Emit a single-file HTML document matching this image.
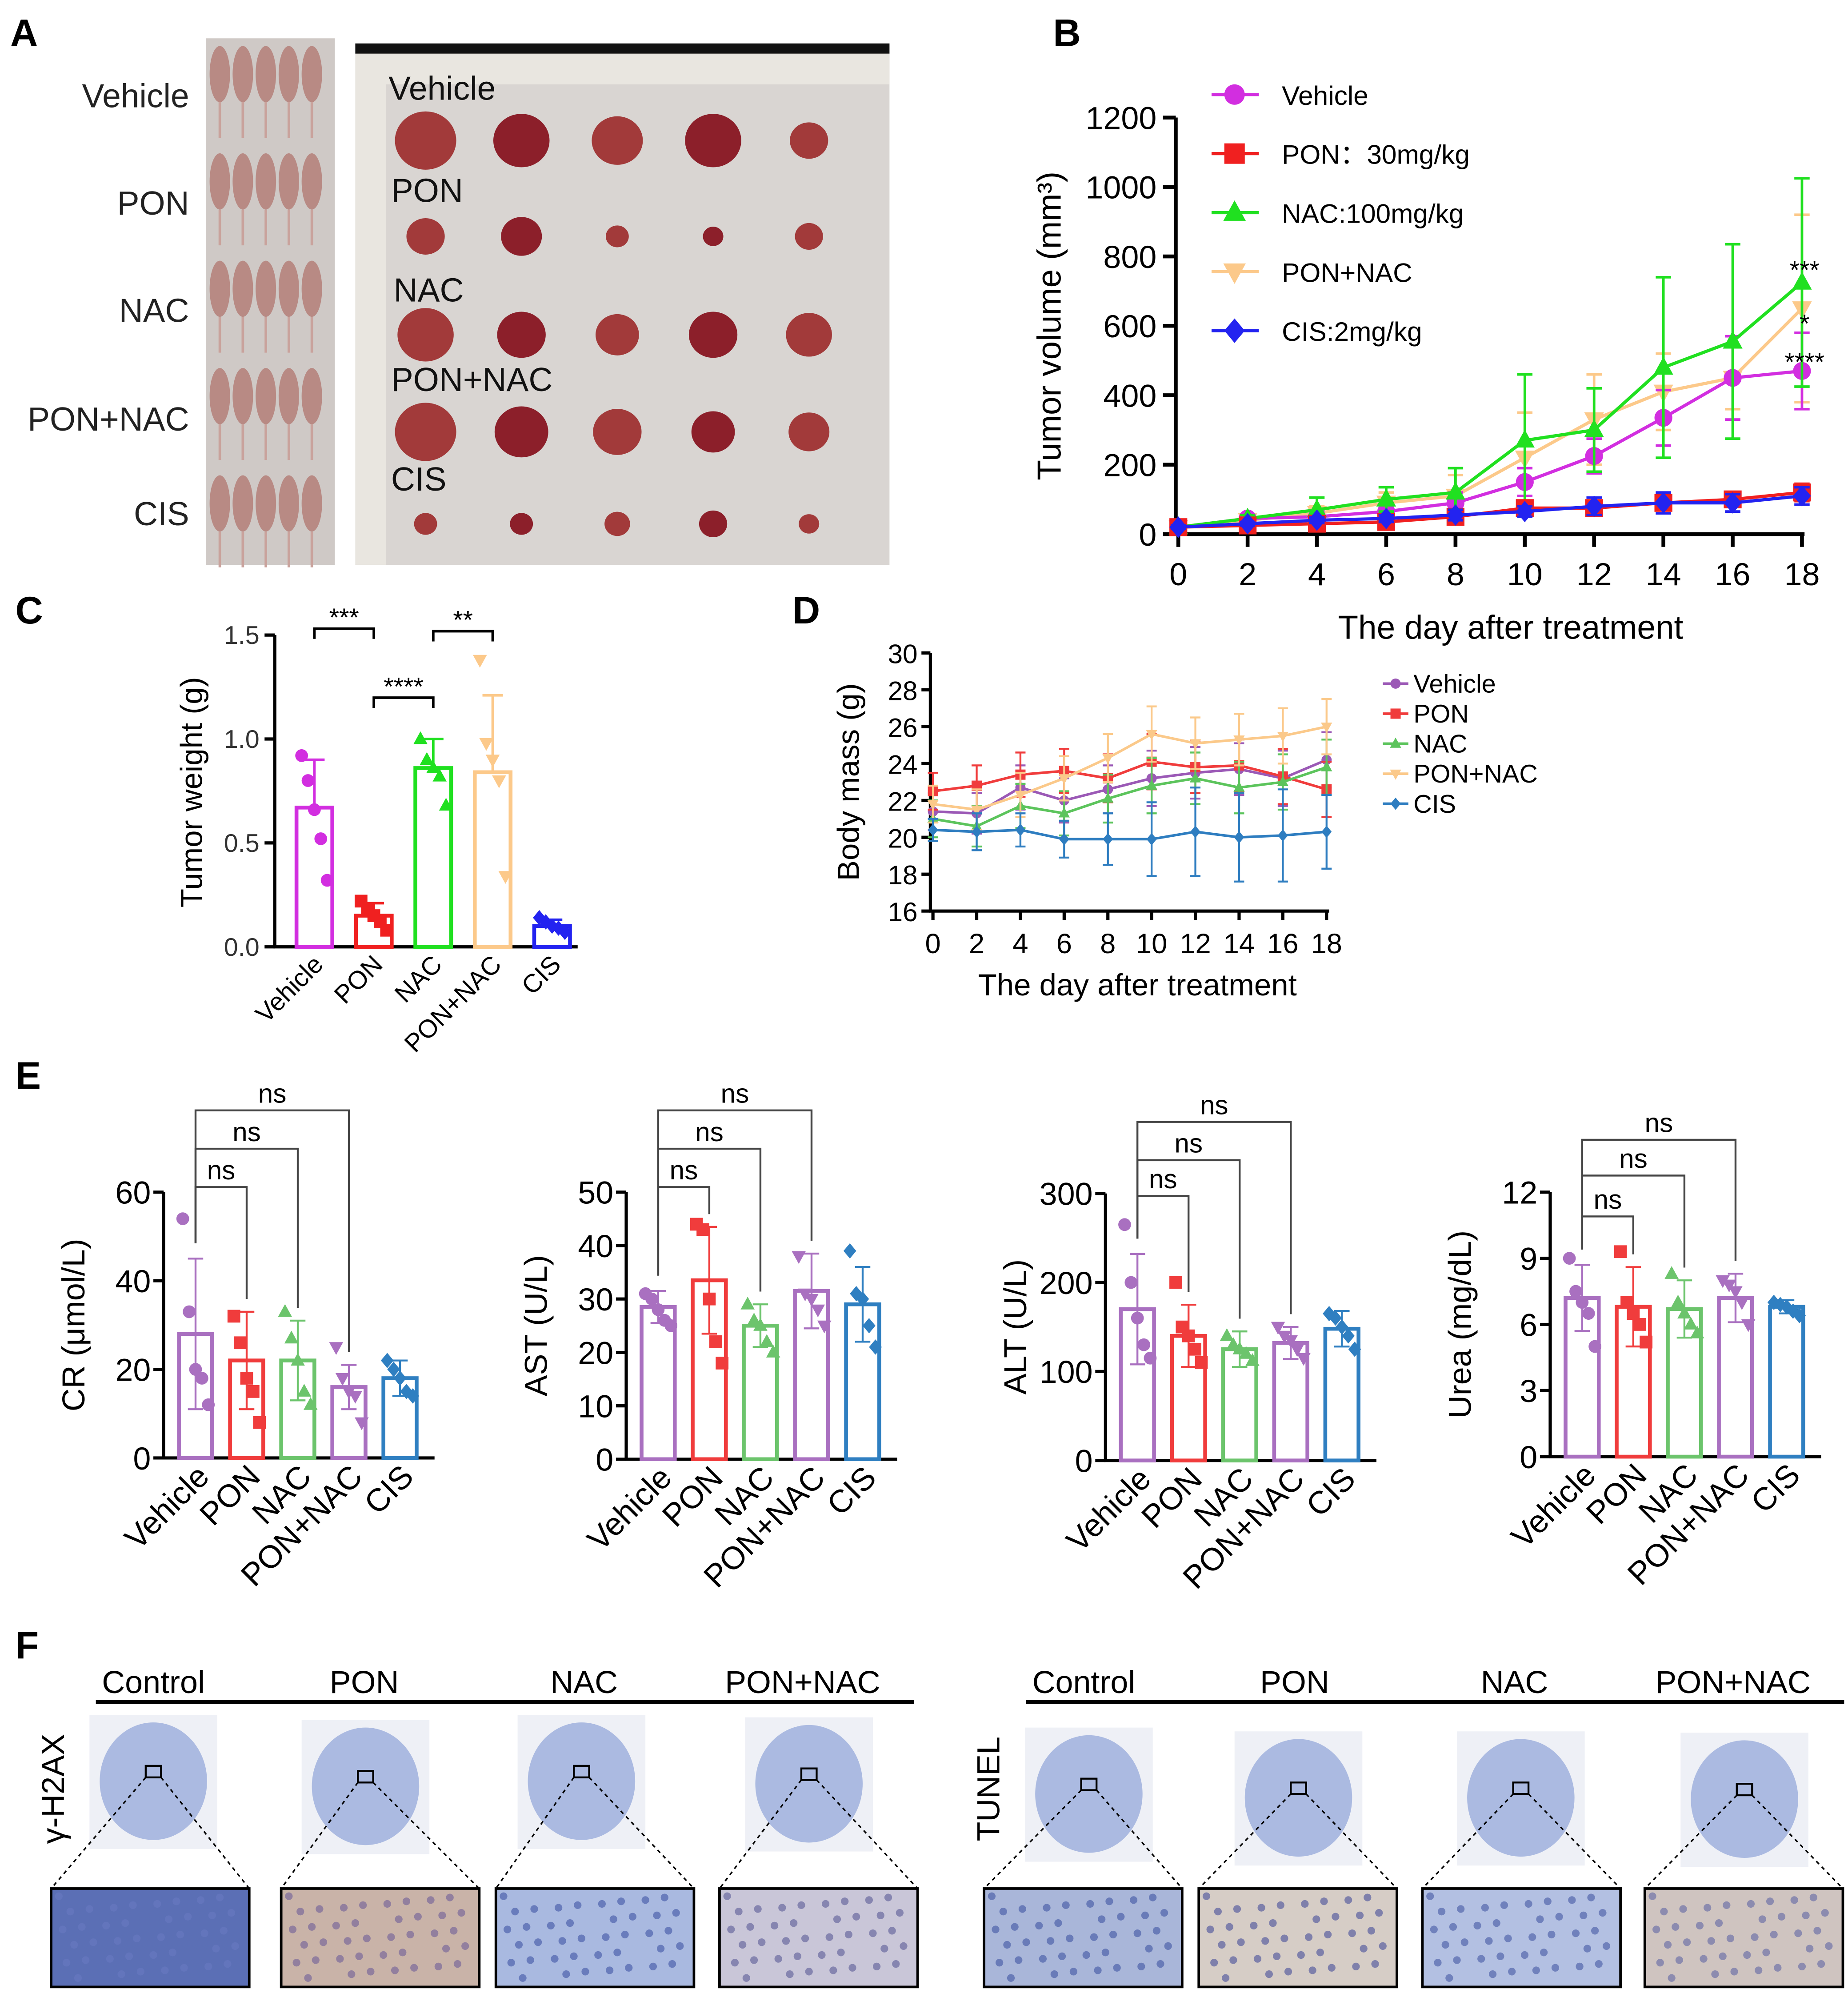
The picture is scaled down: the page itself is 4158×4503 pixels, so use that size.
<!DOCTYPE html>
<html><head><meta charset="utf-8"><style>
html,body{margin:0;padding:0;background:#fff}
svg{display:block;font-family:"Liberation Sans",Arial,sans-serif}
</style></head><body>
<svg id="fig" width="4158" height="4503" viewBox="0 0 1446 1566" xmlns="http://www.w3.org/2000/svg">
<g id="A">
<text x="8" y="36" font-size="30" font-weight="bold">A</text>
<g font-size="26" text-anchor="end" fill="#222">
<text x="148" y="84">Vehicle</text>
<text x="148" y="168">PON</text>
<text x="148" y="252">NAC</text>
<text x="148" y="337">PON+NAC</text>
<text x="148" y="411">CIS</text>
</g>
<rect x="161" y="30" width="101" height="412" fill="#cfc9c6"/>
<g id="mice"></g>
<rect x="278" y="34" width="418" height="408" fill="#d9d5d2"/>
<rect x="278" y="34" width="418" height="8" fill="#111"/>
<rect x="278" y="42" width="24" height="400" fill="#e9e6e0"/>
<rect x="302" y="42" width="394" height="24" fill="#e9e6e0"/>
<g font-size="26" fill="#111">
<text x="304" y="78">Vehicle</text><text x="306" y="158">PON</text><text x="308" y="236">NAC</text><text x="306" y="306">PON+NAC</text><text x="306" y="384">CIS</text>
</g>
<g id="tumors"></g>
</g>

<g id="B">
<text x="824" y="36" font-size="30" font-weight="bold">B</text>
</g>
<g id="C">
<text x="12" y="488" font-size="30" font-weight="bold">C</text>
</g>
<g id="D">
<text x="620" y="488" font-size="30" font-weight="bold">D</text>
</g>
<g id="E">
<text x="12" y="852" font-size="30" font-weight="bold">E</text>
</g>
<g id="F">
<text x="12" y="1298" font-size="30" font-weight="bold">F</text>
</g>
</svg>
<script>
const NS="http://www.w3.org/2000/svg";
function mk(p,tag,at,txt){const e=document.createElementNS(NS,tag);for(const k in at)e.setAttribute(k,at[k]);if(txt!==undefined)e.textContent=txt;p.appendChild(e);return e;}

// ---------- Panel B data ----------
const daysB=[0,2,4,6,8,10,12,14,16,18];
const bVehicle=[20,45,50,65,90,150,225,335,450,470];
const bPON=[20,25,30,35,50,75,75,90,100,120];
const bNAC=[20,45,70,100,120,270,300,480,555,725];
const bPONNAC=[20,40,60,90,110,220,330,410,450,650];
const bCIS=[20,30,40,45,55,65,80,90,90,110];
const bErrVehicle=[5,8,15,25,30,40,50,80,120,110];
const bErrPON=[5,5,8,10,15,20,20,20,20,25];
const bErrNAC=[5,10,35,35,70,190,120,260,280,300];
const bErrPONNAC=[5,10,20,30,60,130,130,110,90,270];
const bErrCIS=[5,5,8,10,15,15,25,30,25,25];
const bYTicks=[0,200,400,600,800,1000,1200];
const bLegend=["Vehicle","PON：30mg/kg","NAC:100mg/kg","PON+NAC","CIS:2mg/kg"];

// ---------- Panel C data ----------
const cGroups=["Vehicle","PON","NAC","PON+NAC","CIS"];
const cMeans=[0.67,0.15,0.86,0.84,0.10];
const cSD=[0.23,0.06,0.14,0.37,0.03];
const cPoints=[[0.92,0.80,0.66,0.52,0.32],[0.22,0.18,0.15,0.12,0.08],[1.0,0.90,0.86,0.82,0.68],[1.38,0.98,0.90,0.80,0.34],[0.14,0.12,0.10,0.09,0.07]];
const cYTicks=[0,0.5,1.0,1.5];

// ---------- Panel D data ----------
const daysD=[0,2,4,6,8,10,12,14,16,18];
const dVehicle=[21.4,21.3,22.7,22.0,22.6,23.2,23.5,23.7,23.2,24.2];
const dPON=[22.5,22.8,23.4,23.6,23.2,24.1,23.8,23.9,23.3,22.6];
const dNAC=[21.0,20.6,21.7,21.3,22.1,22.8,23.2,22.7,23.0,23.8];
const dPONNAC=[21.8,21.5,22.3,23.2,24.3,25.6,25.1,25.3,25.5,26.0];
const dCIS=[20.4,20.3,20.4,19.9,19.9,19.9,20.3,20.0,20.1,20.3];
const dErr=[1.0,1.1,1.2,1.2,1.3,1.5,1.4,1.4,1.5,1.5];
const dErrCIS=[0.6,1.0,0.9,1.0,1.4,2.0,2.4,2.4,2.5,2.0];
const dYTicks=[16,18,20,22,24,26,28,30];
const dLegend=["Vehicle","PON","NAC","PON+NAC","CIS"];

// ---------- Panel E data ----------
const eGroups=["Vehicle","PON","NAC","PON+NAC","CIS"];
const crMeans=[28,22,22,16,18];
const crSD=[17,11,9,5,4];
const crPoints=[[54,33,20,18,12],[32,26,18,15,8],[33,27,22,15,12],[25,18,15,14,8],[22,20,18,15,14]];
const astMeans=[28.5,33.5,25,31.5,29];
const astSD=[3,10,4,7,7];
const astPoints=[[31,30,28,26,25],[44,43,30,22,18],[29,26,25,22,20],[38,31,30,28,25],[39,31,30,25,21]];
const altMeans=[170,140,125,132,148];
const altSD=[62,35,20,18,20];
const altPoints=[[265,200,160,130,115],[200,150,140,125,110],[140,130,125,120,112],[150,140,135,125,115],[165,160,150,140,125]];
const ureaMeans=[7.2,6.8,6.7,7.2,6.8];
const ureaSD=[1.5,1.8,1.3,1.1,0.3];
const ureaPoints=[[9.0,7.5,7.0,6.5,5.0],[9.3,7.0,6.5,6.0,5.2],[8.3,7.0,6.5,6.0,5.6],[8.0,7.8,7.5,7.0,6.0],[7.0,6.9,6.8,6.6,6.4]];

const colsB=["#d22ee0","#f02020","#20e020","#fcc98a","#2323f0"];
const colsD=["#9b59b6","#f03c3c","#5cc45c","#fbc98a","#2e7dc0"];
const colsE=["#a970c0","#f03c3c","#6cc46c","#a970c0","#2f7fc1"];

// ---------- Panel A drawing ----------
(function(){
 const m=document.getElementById('mice');
 for(let r=0;r<5;r++){for(let i=0;i<5;i++){
  const el=mk(m,'ellipse',{cx:172+i*18,cy:58+r*84,rx:8,ry:22,fill:'#b88a84'});
  
  
  mk(m,'line',{x1:172+i*18,y1:80+r*84,x2:172+i*18,y2:108+r*84,stroke:'#c9a29c','stroke-width':2});
 }}
 const t=document.getElementById('tumors');
 const rows=[110,185,262,338,410];const sizes=[[24,22,20,22,15],[15,16,9,8,11],[22,19,17,19,18],[24,21,19,17,16],[9,9,10,11,8]];
 for(let r=0;r<5;r++)for(let i=0;i<5;i++){
  const el=mk(t,'ellipse',{cx:333+i*75,cy:rows[r],rx:sizes[r][i],ry:sizes[r][i]*0.95,fill:i%2?'#8c1f2a':'#a23a3a'});
  
  
 }
})();

// ---------- Panel B drawing ----------
(function(){
 const g=document.getElementById('B');
 const X=d=>922+d*(488/18), Y=v=>418-v*(326/1200);
 mk(g,'line',{x1:920,y1:92,x2:920,y2:419,stroke:'#000','stroke-width':3});
 mk(g,'line',{x1:919,y1:418,x2:1412,y2:418,stroke:'#000','stroke-width':3});
 bYTicks.forEach(t=>{mk(g,'line',{x1:910,y1:Y(t),x2:920,y2:Y(t),stroke:'#000','stroke-width':3});mk(g,'text',{x:905,y:Y(t)+9,'font-size':25,'text-anchor':'end'},t);});
 daysB.forEach(d=>{mk(g,'line',{x1:X(d),y1:418,x2:X(d),y2:428,stroke:'#000','stroke-width':3});mk(g,'text',{x:X(d),y:458,'font-size':25,'text-anchor':'middle'},d);});
 mk(g,'text',{x:1182,y:500,'font-size':26,'text-anchor':'middle'},'The day after treatment');
 mk(g,'text',{x:830,y:255,'font-size':26,'text-anchor':'middle',transform:'rotate(-90 830 255)'},'Tumor volume (mm³)');
 const S=[bVehicle,bPON,bNAC,bPONNAC,bCIS],E=[bErrVehicle,bErrPON,bErrNAC,bErrPONNAC,bErrCIS];
 const shapes=['c','s','t','v','d'];
 function marker(p,x,y,s,c,r){
  if(s=='c')return mk(p,'circle',{cx:x,cy:y,r:r,fill:c});
  if(s=='s')return mk(p,'rect',{x:x-r,y:y-r,width:2*r,height:2*r,fill:c});
  if(s=='t')return mk(p,'polygon',{points:`${x},${y-r*1.2} ${x-r*1.1},${y+r*0.8} ${x+r*1.1},${y+r*0.8}`,fill:c});
  if(s=='v')return mk(p,'polygon',{points:`${x},${y+r*1.2} ${x-r*1.1},${y-r*0.8} ${x+r*1.1},${y-r*0.8}`,fill:c});
  return mk(p,'polygon',{points:`${x},${y-r*1.2} ${x+r},${y} ${x},${y+r*1.2} ${x-r},${y}`,fill:c});
 }
 window._marker=marker;
 [3,0,2,1,4].forEach(k=>{
  const sg=mk(g,'g',{});
  
  
  S[k].forEach((v,i)=>{const x=X(daysB[i]);mk(sg,'line',{x1:x,y1:Y(v-E[k][i]),x2:x,y2:Y(v+E[k][i]),stroke:colsB[k],'stroke-width':2});mk(sg,'line',{x1:x-6,y1:Y(v+E[k][i]),x2:x+6,y2:Y(v+E[k][i]),stroke:colsB[k],'stroke-width':2});mk(sg,'line',{x1:x-6,y1:Y(v-E[k][i]),x2:x+6,y2:Y(v-E[k][i]),stroke:colsB[k],'stroke-width':2});});
  mk(sg,'polyline',{points:S[k].map((v,i)=>X(daysB[i])+','+Y(v)).join(' '),fill:'none',stroke:colsB[k],'stroke-width':2.5});
  S[k].forEach((v,i)=>{const m=marker(sg,X(daysB[i]),Y(v),shapes[k],colsB[k],7);});
 });
 bLegend.forEach((l,i)=>{const y=74+i*46.2;const lg=mk(g,'g',{});
  
  
  mk(lg,'line',{x1:948,y1:y,x2:985,y2:y,stroke:colsB[i],'stroke-width':2.5});marker(lg,966,y,shapes[i],colsB[i],8);mk(lg,'text',{x:1003,y:y+8,'font-size':21},l);});
 mk(g,'text',{x:1412,y:218,'font-size':20,'text-anchor':'middle'},'***');
 mk(g,'text',{x:1412,y:260,'font-size':20,'text-anchor':'middle'},'*');
 mk(g,'text',{x:1412,y:290,'font-size':20,'text-anchor':'middle'},'****');
})();

// ---------- Panel C drawing ----------
(function(){
 const g=document.getElementById('C');
 const Y=v=>741-v*(244/1.5), X=i=>246+i*46.5;
 mk(g,'line',{x1:215,y1:497,x2:215,y2:742,stroke:'#000','stroke-width':2.5});
 mk(g,'line',{x1:214,y1:741,x2:452,y2:741,stroke:'#000','stroke-width':2.5});
 cYTicks.forEach(t=>{mk(g,'line',{x1:207,y1:Y(t),x2:215,y2:Y(t),stroke:'#000','stroke-width':2.5});mk(g,'text',{x:203,y:Y(t)+7,'font-size':20,'text-anchor':'end',fill:'#333'},t.toFixed(1));});
 mk(g,'text',{x:158,y:620,'font-size':24,'text-anchor':'middle',transform:'rotate(-90 158 620)'},'Tumor weight (g)');
 const shapes=['c','s','t','v','d'];
 cMeans.forEach((v,i)=>{const x=X(i),c=colsB[i];
  const b=mk(g,'rect',{x:x-14,y:Y(v),width:28,height:741-Y(v),fill:'none',stroke:c,'stroke-width':3});
  
  
  mk(g,'line',{x1:x,y1:Y(v),x2:x,y2:Y(v+cSD[i]),stroke:c,'stroke-width':2});
  mk(g,'line',{x1:x-8,y1:Y(v+cSD[i]),x2:x+8,y2:Y(v+cSD[i]),stroke:c,'stroke-width':2});
  cPoints[i].forEach((p,j)=>_marker(g,x+(j-2)*5,Y(p),shapes[i],c,5));
  mk(g,'text',{x:x+8,y:756,'font-size':20,'text-anchor':'end',transform:`rotate(-45 ${x+8} 756)`},cGroups[i]);
 });
 const br=(i1,i2,y,s)=>{mk(g,'polyline',{points:`${X(i1)},${y+8} ${X(i1)},${y} ${X(i2)},${y} ${X(i2)},${y+8}`,fill:'none',stroke:'#000','stroke-width':2});mk(g,'text',{x:(X(i1)+X(i2))/2,y:y-2,'font-size':20,'text-anchor':'middle'},s);};
 br(0,1,492,'***');br(2,3,494,'**');br(1,2,546,'****');
})();

// ---------- Panel D drawing ----------
(function(){
 const g=document.getElementById('D');
 const X=d=>730+d*(308/18), Y=v=>713-(v-16)*(202/14);
 mk(g,'line',{x1:728,y1:511,x2:728,y2:714,stroke:'#000','stroke-width':2.5});
 mk(g,'line',{x1:727,y1:713,x2:1040,y2:713,stroke:'#000','stroke-width':2.5});
 dYTicks.forEach(t=>{mk(g,'line',{x1:721,y1:Y(t),x2:728,y2:Y(t),stroke:'#000','stroke-width':2.5});mk(g,'text',{x:718,y:Y(t)+8,'font-size':21,'text-anchor':'end'},t);});
 daysD.forEach(d=>{mk(g,'line',{x1:X(d),y1:713,x2:X(d),y2:720,stroke:'#000','stroke-width':2.5});mk(g,'text',{x:X(d),y:746,'font-size':22,'text-anchor':'middle'},d);});
 mk(g,'text',{x:890,y:779,'font-size':24,'text-anchor':'middle'},'The day after treatment');
 mk(g,'text',{x:672,y:612,'font-size':24,'text-anchor':'middle',transform:'rotate(-90 672 612)'},'Body mass (g)');
 const S=[dVehicle,dPON,dNAC,dPONNAC,dCIS];const shapes=['c','s','t','v','d'];
 S.forEach((s,k)=>{const E=k==4?dErrCIS:dErr;
  const sg=mk(g,'g',{});
  
  
  s.forEach((v,i)=>{const x=X(daysD[i]);mk(sg,'line',{x1:x,y1:Y(v-E[i]),x2:x,y2:Y(v+E[i]),stroke:colsD[k],'stroke-width':1.5});mk(sg,'line',{x1:x-4,y1:Y(v+E[i]),x2:x+4,y2:Y(v+E[i]),stroke:colsD[k],'stroke-width':1.5});mk(sg,'line',{x1:x-4,y1:Y(v-E[i]),x2:x+4,y2:Y(v-E[i]),stroke:colsD[k],'stroke-width':1.5});});
  mk(sg,'polyline',{points:s.map((v,i)=>X(daysD[i])+','+Y(v)).join(' '),fill:'none',stroke:colsD[k],'stroke-width':2});
  s.forEach((v,i)=>_marker(sg,X(daysD[i]),Y(v),shapes[k],colsD[k],4));
 });
 dLegend.forEach((l,i)=>{const y=535+i*23.5;const lg=mk(g,'g',{});
  
  
  mk(lg,'line',{x1:1082,y1:y,x2:1102,y2:y,stroke:colsD[i],'stroke-width':2});_marker(lg,1092,y,shapes[i],colsD[i],4);mk(lg,'text',{x:1106,y:y+7,'font-size':20},l);});
})();

// ---------- Panel E drawing ----------
function barChart(cfg){
 const g=mk(document.getElementById('E'),'g',{});
 
 
 const Y=v=>cfg.y0-v*(cfg.y0-cfg.yTop)/cfg.max, X=i=>cfg.ax+25+i*40;
 mk(g,'line',{x1:cfg.ax,y1:cfg.yTop,x2:cfg.ax,y2:cfg.y0+1,stroke:'#000','stroke-width':2.5});
 mk(g,'line',{x1:cfg.ax-1,y1:cfg.y0,x2:cfg.ax+212,y2:cfg.y0,stroke:'#000','stroke-width':2.5});
 cfg.ticks.forEach(t=>{mk(g,'line',{x1:cfg.ax-8,y1:Y(t),x2:cfg.ax,y2:Y(t),stroke:'#000','stroke-width':2.5});mk(g,'text',{x:cfg.ax-10,y:Y(t)+9,'font-size':25,'text-anchor':'end'},t);});
 const ym=(cfg.y0+cfg.yTop)/2;
 mk(g,'text',{x:cfg.ax-62,y:ym,'font-size':25,'text-anchor':'middle',transform:`rotate(-90 ${cfg.ax-62} ${ym})`},cfg.label);
 const shapes=['c','s','t','v','d'];
 cfg.means.forEach((v,i)=>{const x=X(i),c=colsE[i];
  const b=mk(g,'rect',{x:x-13,y:Y(v),width:26,height:cfg.y0-Y(v),fill:'none',stroke:c,'stroke-width':3});
  
  
  mk(g,'line',{x1:x,y1:Y(v-cfg.sd[i]),x2:x,y2:Y(v+cfg.sd[i]),stroke:c,'stroke-width':1.5});
  mk(g,'line',{x1:x-6,y1:Y(v+cfg.sd[i]),x2:x+6,y2:Y(v+cfg.sd[i]),stroke:c,'stroke-width':1.5});
  mk(g,'line',{x1:x-6,y1:Y(v-cfg.sd[i]),x2:x+6,y2:Y(v-cfg.sd[i]),stroke:c,'stroke-width':1.5});
  cfg.pts[i].forEach((p,j)=>_marker(g,x+(j-2)*5,Y(p),shapes[i],c,5));
  mk(g,'text',{x:x+12,y:cfg.y0+16,'font-size':25,'text-anchor':'end',transform:`rotate(-45 ${x+12} ${cfg.y0+16})`},eGroups[i]);
 });
 [[1,cfg.nsY[2]],[2,cfg.nsY[1]],[3,cfg.nsY[0]]].forEach(([k,y])=>{
  const xt=X(k)+(k==3?0:0);
  mk(g,'polyline',{points:`${X(0)},${Y(cfg.means[0]+cfg.sd[0])-12} ${X(0)},${y} ${xt},${y} ${xt},${Y(cfg.means[k]+cfg.sd[k])-10}`,fill:'none',stroke:'#444','stroke-width':1.5});
  mk(g,'text',{x:(X(0)+xt)/2,y:y-6,'font-size':21,'text-anchor':'middle'},'ns');
 });
}
barChart({name:'chart-cr',ax:128,y0:1141,yTop:933,max:60,ticks:[0,20,40,60],label:'CR (μmol/L)',means:crMeans,sd:crSD,pts:crPoints,nsY:[869,899,929]});
barChart({name:'chart-ast',ax:490,y0:1142,yTop:933,max:50,ticks:[0,10,20,30,40,50],label:'AST (U/L)',means:astMeans,sd:astSD,pts:astPoints,nsY:[869,899,929]});
barChart({name:'chart-alt',ax:865,y0:1143,yTop:934,max:300,ticks:[0,100,200,300],label:'ALT (U/L)',means:altMeans,sd:altSD,pts:altPoints,nsY:[878,908,936]});
barChart({name:'chart-urea',ax:1213,y0:1140,yTop:933,max:12,ticks:[0,3,6,9,12],label:'Urea (mg/dL)',means:ureaMeans,sd:ureaSD,pts:ureaPoints,nsY:[892,920,952]});

// ---------- Panel F drawing ----------
(function(){
 const g=document.getElementById('F');
 const labs=['Control','PON','NAC','PON+NAC'];
 const halves=[{x0:75,lx:[120,285,457,628],thumbs:[[70,1342],[236,1346],[405,1342],[583,1344]],zooms:[40,220,388,563],side:'γ-H2AX',sx:50},{x0:803,lx:[848,1013,1185,1356],thumbs:[[802,1352],[966,1355],[1140,1355],[1315,1356]],zooms:[770,938,1113,1287],side:'TUNEL',sx:782}];
 const zc=[['#5b6fb5','#6678bf'],['#c9b3a8','#7a6a9a'],['#a9b9e0','#4f63ad'],['#c9c6d8','#6a6aa0'],['#a9b6d9','#4e63aa'],['#d6cdc6','#5a5fa0'],['#b3c0e2','#5467ad'],['#cfc4c0','#6f74a8']];
 halves.forEach((h,hi)=>{
  mk(g,'line',{x1:h.x0,y1:1332,x2:h.x0+640,y2:1332,stroke:'#000','stroke-width':3});
  labs.forEach((l,i)=>{const t=mk(g,'text',{x:h.lx[i],y:1325,'font-size':25,'text-anchor':'middle'},l);
   
   });
  mk(g,'text',{x:h.sx,y:1400,'font-size':25,'text-anchor':'middle',transform:`rotate(-90 ${h.sx} 1400)`},h.side);
  h.thumbs.forEach((p,i)=>{
   const r=mk(g,'rect',{x:p[0],y:p[1],width:100,height:105,fill:'#eef0f6'});
   
   
   mk(g,'ellipse',{cx:p[0]+50,cy:p[1]+52,rx:42,ry:46,fill:'#9fb0dd',opacity:0.85});
   const bx=p[0]+44,by=p[1]+40;
   mk(g,'rect',{x:bx,y:by,width:12,height:9,fill:'none',stroke:'#000','stroke-width':1.5});
   const zx=h.zooms[i];
   mk(g,'line',{x1:bx,y1:by+9,x2:zx,y2:1478,stroke:'#000','stroke-width':1.2,'stroke-dasharray':'3,3'});
   mk(g,'line',{x1:bx+12,y1:by+9,x2:zx+155,y2:1478,stroke:'#000','stroke-width':1.2,'stroke-dasharray':'3,3'});
   const c=zc[hi*4+i];
   const z=mk(g,'rect',{x:zx,y:1478,width:155,height:77,fill:c[0],stroke:'#000','stroke-width':2});
   
   
   for(let k=0;k<40;k++){mk(g,'circle',{cx:zx+6+((k*37)%145),cy:1484+((k*23)%66),r:3,fill:c[1],opacity:0.7});}
  });
 });
})();
</script>
</body></html>
